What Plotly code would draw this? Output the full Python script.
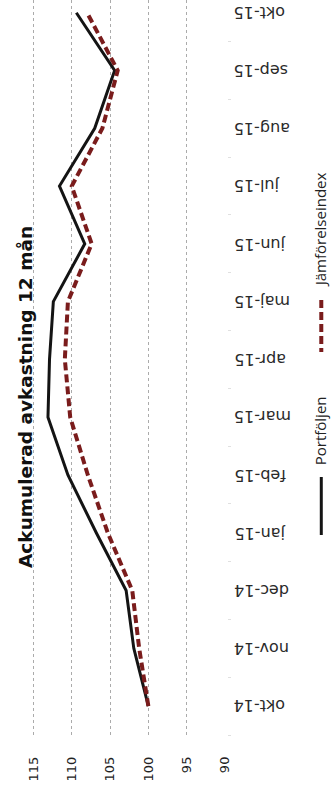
import plotly.graph_objects as go

months = ["okt-14", "nov-14", "dec-14", "jan-15", "feb-15", "mar-15", "apr-15",
          "maj-15", "jun-15", "jul-15", "aug-15", "sep-15", "okt-15"]
portfoljen = [100.0, 101.9, 102.9, 106.8, 110.5, 113.1, 112.9, 112.4, 108.3, 111.6, 107.0, 104.4, 109.4]
jamforelse = [100.0, 101.2, 102.1, 105.3, 107.9, 110.2, 110.9, 110.5, 107.4, 110.0, 106.0, 104.0, 108.0]
value_ticks = [90, 95, 100, 105, 110, 115]
title_text = "Ackumulerad avkastning 12 mån"
series_names = ["Portföljen", "Jämförelseindex"]

W, H = 331, 787
ml, mr, mt, mb = 0, 105.5, 0, 52
pw, ph = W - ml - mr, H - mt - mb

fig = go.Figure()
fig.add_trace(go.Scatter(x=portfoljen, y=months, mode="lines", name=series_names[0],
                         line=dict(color="#141414", width=3), showlegend=False))
fig.add_trace(go.Scatter(x=jamforelse, y=months, mode="lines", name=series_names[1],
                         line=dict(color="#7a1c1c", width=4, dash="8px,4px"), showlegend=False))

def px_x(px):
    return (px - ml) / pw

def px_y(py):
    return 1 - (py - mt) / ph

fig.update_layout(
    width=W, height=H, autosize=False,
    margin=dict(l=ml, r=mr, t=mt, b=mb, pad=0),
    paper_bgcolor="white", plot_bgcolor="white",
    xaxis=dict(range=[119.36, 90], tickvals=value_ticks, ticktext=[str(v) for v in value_ticks],
               tickangle=-90, showgrid=True, gridcolor="#ababab", gridwidth=1, griddash="3px,3px",
               zeroline=False, showline=False, ticks="", ticklabelstandoff=18,
               tickfont=dict(family="DejaVu Sans", size=13, color="#222")),
    yaxis=dict(type="category", categoryorder="array", categoryarray=months,
               range=[-0.5, 12.22], side="right", showgrid=False, zeroline=False,
               showline=True, linecolor="white", linewidth=3,
               ticks="outside", tickson="boundaries", ticklen=3, tickcolor="#e0e0e0",
               showticklabels=False),
    showlegend=False,
)

# category labels (upside down, left-aligned next to the axis)
for m in months:
    fig.add_annotation(text=m, xref="paper", yref="y", x=px_x(232), y=m,
                       xanchor="left", yanchor="middle", textangle=180, showarrow=False,
                       font=dict(family="DejaVu Sans", size=16, color="#2a2a2a"))

fig.add_annotation(text="<b>" + title_text + "</b>", xref="paper", yref="paper",
                   x=px_x(25), y=px_y(397), xanchor="center", yanchor="middle",
                   textangle=-90, showarrow=False,
                   font=dict(family="DejaVu Sans", size=18.5, color="#111"))

# legend (rotated)
fig.add_shape(type="line", xref="paper", yref="paper", x0=px_x(322), x1=px_x(322),
              y0=px_y(477), y1=px_y(535), line=dict(color="#141414", width=3))
fig.add_annotation(text=series_names[0], xref="paper", yref="paper",
                   x=px_x(321), y=px_y(431), xanchor="center", yanchor="middle",
                   textangle=-90, showarrow=False,
                   font=dict(family="Open Sans", size=15, color="#222"))
fig.add_shape(type="line", xref="paper", yref="paper", x0=px_x(322), x1=px_x(322),
              y0=px_y(300), y1=px_y(352), line=dict(color="#7a1c1c", width=4, dash="8px,4px"))
fig.add_annotation(text=series_names[1], xref="paper", yref="paper",
                   x=px_x(321), y=px_y(230), xanchor="center", yanchor="middle",
                   textangle=-90, showarrow=False,
                   font=dict(family="Open Sans", size=15, color="#222"))

fig.write_html("out.html", config={"displayModeBar": False},
               post_script="document.body.style.margin='0';document.body.style.padding='0';")
